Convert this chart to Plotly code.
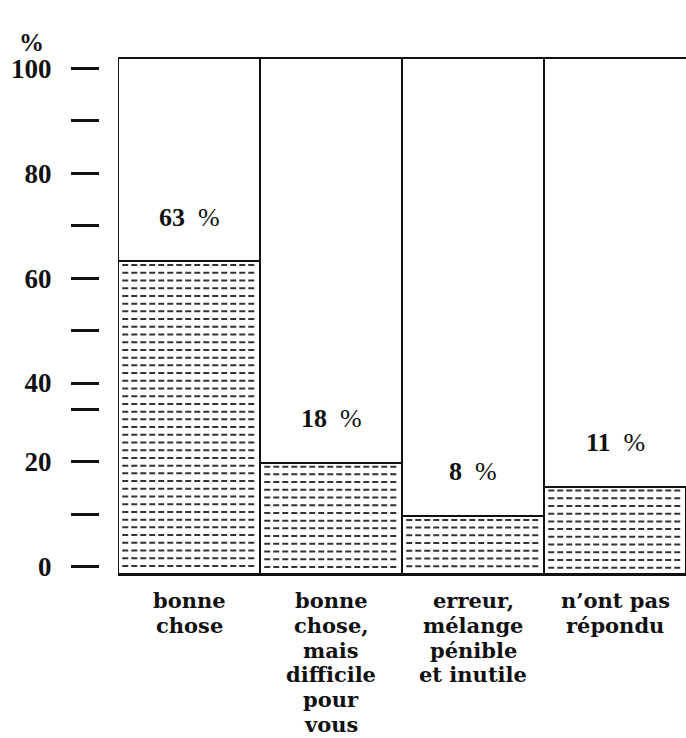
import plotly.graph_objects as go

# ---------------- data ----------------
categories = ["bonne chose", "bonne chose, mais difficile pour vous",
              "erreur, mélange pénible et inutile", "n’ont pas répondu"]
category_lines = [["bonne", "chose"],
                  ["bonne", "chose,", "mais", "difficile", "pour", "vous"],
                  ["erreur,", "mélange", "pénible", "et inutile"],
                  ["n’ont pas", "répondu"]]
bar_heights = [61.4, 20.9, 10.2, 16.1]          # drawn heights
value_labels = ["63", "18", "8", "11"]           # printed percentages
tick_values = [0, 10.5, 21.1, 31.5, 36.9, 47.4, 57.9, 68.45, 78.9, 89.6, 100]
tick_labels = ["0", "", "20", "", "40", "", "60", "", "80", "", "100"]

# ---------------- style ----------------
W, H = 686, 738
Y_MIN, Y_MAX = -1.47, 102.0
SERIF = "Liberation Serif"
LABEL_SERIF = "DejaVu Serif"
HATCH_STEP = 1.55      # vertical spacing of hatch rows (axis units)
INK = "#111111"

xs = list(range(len(categories)))

fig = go.Figure()

# bars (white with black outline)
fig.add_trace(go.Bar(
    x=xs, y=[h - Y_MIN for h in bar_heights], base=Y_MIN, width=1,
    marker=dict(color="white", line=dict(color=INK, width=2)),
    hoverinfo="skip", showlegend=False))

# dashed horizontal hatching inside each bar
hx, hy = [], []
for i, h in zip(xs, bar_heights):
    y = h - 0.8
    while y > Y_MIN + 0.4:
        hx += [i - 0.47, i + 0.47, None]
        hy += [y, y, None]
        y -= HATCH_STEP
fig.add_trace(go.Scatter(
    x=hx, y=hy, mode="lines",
    line=dict(color="#333333", width=2, dash="6px,3px"),
    hoverinfo="skip", showlegend=False))

# column separators / frame
for b in [i - 0.5 for i in xs]:
    fig.add_vline(x=b, line_width=2, line_color=INK)

# value labels above bars
for i, (h, v) in enumerate(zip(bar_heights, value_labels)):
    fig.add_annotation(x=i, y=h, xref="x", yref="y", yshift=44,
                       xanchor="center", yanchor="middle",
                       text=f"<b>{v}</b>\u00a0\u00a0%", showarrow=False,
                       font=dict(family=SERIF, size=26, color=INK))

# category labels, one line per annotation (tight leading like the original)
for i, lines in enumerate(category_lines):
    for k, ln in enumerate(lines):
        fig.add_annotation(x=i, y=0, xref="x", yref="paper",
                           xanchor="center", yanchor="top",
                           yshift=-(12 + 24.8 * k),
                           text=ln, showarrow=False,
                           font=dict(family=LABEL_SERIF, size=21, color=INK,
                                     weight="bold"))

# "%" unit label
fig.add_annotation(x=31 / W, y=1.033, xref="paper", yref="paper",
                   xanchor="center", yanchor="middle",
                   text="%", showarrow=False,
                   font=dict(family=SERIF, size=25, color=INK, weight="bold"))

fig.update_layout(
    width=W, height=H,
    margin=dict(l=0, r=0, t=59, b=164),
    paper_bgcolor="white", plot_bgcolor="white",
    bargap=0,
    xaxis=dict(domain=[118 / W, 1], range=[-0.5, 3.5],
               showticklabels=False, ticks="", showgrid=False, zeroline=False,
               showline=True, mirror=True, linewidth=2, linecolor=INK),
    yaxis=dict(range=[Y_MIN, Y_MAX], anchor="free", position=99 / W,
               tickmode="array", tickvals=tick_values, ticktext=tick_labels,
               ticks="outside", ticklen=28, tickwidth=2.5, tickcolor=INK,
               ticklabelstandoff=14,
               tickfont=dict(family=SERIF, size=27, color=INK, weight="bold"),
               showline=False, showgrid=False, zeroline=False),
)

fig.write_html("out.html",
               config={"displayModeBar": False},
               post_script="document.body.style.margin='0';"
                           "document.body.style.padding='0';"
                           "document.body.style.overflow='hidden';")
